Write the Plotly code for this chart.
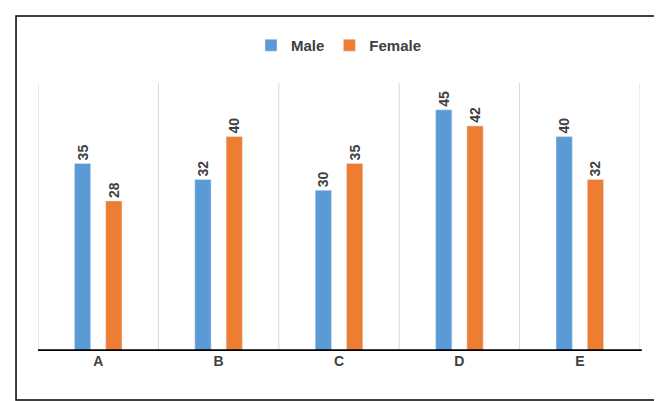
import plotly.graph_objects as go

categories = ["A", "B", "C", "D", "E"]
male = [35, 32, 30, 45, 40]
female = [28, 40, 35, 42, 32]

fig = go.Figure()
fig.add_trace(go.Bar(x=categories, y=male, name="<b>Male</b>", marker_color="#5B9BD5",
                     text=male, textposition="outside", textangle=-90))
fig.add_trace(go.Bar(x=categories, y=female, name="<b>Female</b>", marker_color="#ED7D31",
                     text=female, textposition="outside", textangle=-90))
fig.update_traces(textfont=dict(family="Liberation Sans", size=14, color="#404040"),
                  cliponaxis=False, texttemplate="<b>%{text}</b>")

shapes = []
for i in range(6):
    shapes.append(dict(type="line", xref="x", yref="paper", x0=i - 0.5, x1=i - 0.5,
                       y0=0, y1=1, line=dict(color="#d9d9d9", width=1), layer="below"))
shapes.append(dict(type="line", xref="paper", yref="y", x0=0, x1=1.003, y0=0, y1=0,
                   line=dict(color="black", width=3.5)))
shapes.append(dict(type="rect", xref="paper", yref="paper", x0=-0.0365, x1=1.0332,
                   y0=-0.183, y1=1.25, line=dict(color="black", width=1.5)))

fig.update_layout(
    width=662, height=401,
    margin=dict(l=30, r=30, t=75, b=58, autoexpand=False),
    paper_bgcolor="white", plot_bgcolor="white",
    barmode="group", bargap=0.48, bargroupgap=0.48,
    shapes=shapes,
    font=dict(family="Liberation Sans", color="#404040"),
    legend=dict(orientation="h", x=0.5, xanchor="center", y=1.14, yanchor="middle",
                bgcolor="rgba(0,0,0,0)",
                font=dict(family="Liberation Sans", size=15, color="#404040")),
    xaxis=dict(range=[-0.5, 4.5], showgrid=False, ticks="",
               tickvals=categories, ticktext=["<b>%s</b>" % c for c in categories],
               tickfont=dict(size=14, color="#404040")),
    yaxis=dict(range=[0, 50], visible=False),
)

fig.write_html("out.html")
